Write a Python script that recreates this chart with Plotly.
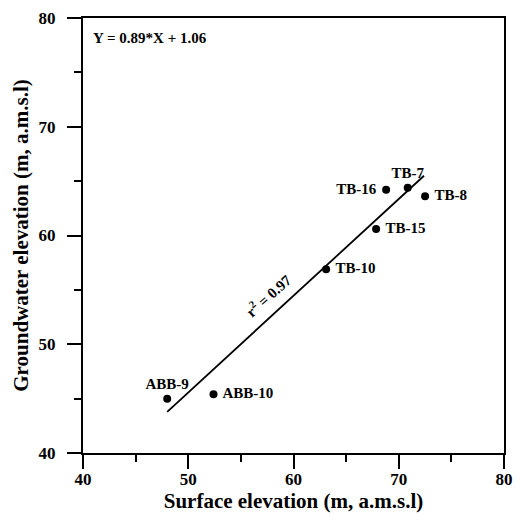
import plotly.graph_objects as go

# Data
wells = ["ABB-9", "ABB-10", "TB-10", "TB-15", "TB-16", "TB-7", "TB-8"]
surface_elev = [48.0, 52.4, 63.1, 67.85, 68.8, 70.85, 72.5]
groundwater_elev = [45.0, 45.4, 56.9, 60.6, 64.2, 64.4, 63.6]
label_text = ["ABB-9", " ABB-10", " TB-10", " TB-15", "TB-16 ", "TB-7", " TB-8"]
label_pos = ["top center", "middle right", "middle right", "middle right",
             "middle left", "top center", "middle right"]

slope = 0.89
intercept = 1.06
fit_x = [48.0, 72.4]
fit_y = [slope * v + intercept for v in fit_x]

FONT = "Liberation Serif, Times New Roman, serif"

fig = go.Figure()
fig.add_trace(go.Scatter(
    x=fit_x, y=fit_y, mode="lines",
    line=dict(color="black", width=1.8),
    hoverinfo="skip", showlegend=False))
fig.add_trace(go.Scatter(
    x=surface_elev, y=groundwater_elev, mode="markers+text",
    text=label_text, textposition=label_pos,
    textfont=dict(family=FONT, size=15, color="black", weight="bold"),
    marker=dict(color="black", size=8),
    showlegend=False))

fig.add_annotation(
    x=0.02, y=0.955, xref="paper", yref="paper", xanchor="left", yanchor="middle",
    text="Y = 0.89*X + 1.06", showarrow=False,
    font=dict(family=FONT, size=15, color="black", weight="bold"))

fig.add_annotation(
    x=57.6, y=54.5, xref="x", yref="y",
    text="r<sup>2</sup> = 0.97", showarrow=False, textangle=-42,
    font=dict(family=FONT, size=15, color="black", weight="bold"))

axis_common = dict(
    showline=True, linecolor="black", linewidth=2, mirror=True,
    ticks="outside", ticklen=14, tickwidth=2, tickcolor="black",
    showgrid=False, zeroline=False,
    tickfont=dict(family=FONT, size=17, color="black", weight="bold"),
    dtick=10,
    minor=dict(ticks="outside", ticklen=7, tickwidth=1.5, tickcolor="black", dtick=5, showgrid=False),
)

fig.update_xaxes(range=[40, 80], tick0=40, ticklabelstandoff=-4,
                 title=dict(text="Surface elevation (m, a.m.s.l)", standoff=4,
                            font=dict(family=FONT, size=21, color="black", weight="bold")),
                 **axis_common)
fig.update_yaxes(range=[40, 80], tick0=40, ticklabelstandoff=8,
                 title=dict(text="Groundwater elevation (m, a.m.s.l)", standoff=4,
                            font=dict(family=FONT, size=21, color="black", weight="bold")),
                 **axis_common)

fig.update_layout(
    width=522, height=522,
    margin=dict(l=83, r=9, t=12, b=69),
    plot_bgcolor="white", paper_bgcolor="white",
)

fig.write_html("out.html")
